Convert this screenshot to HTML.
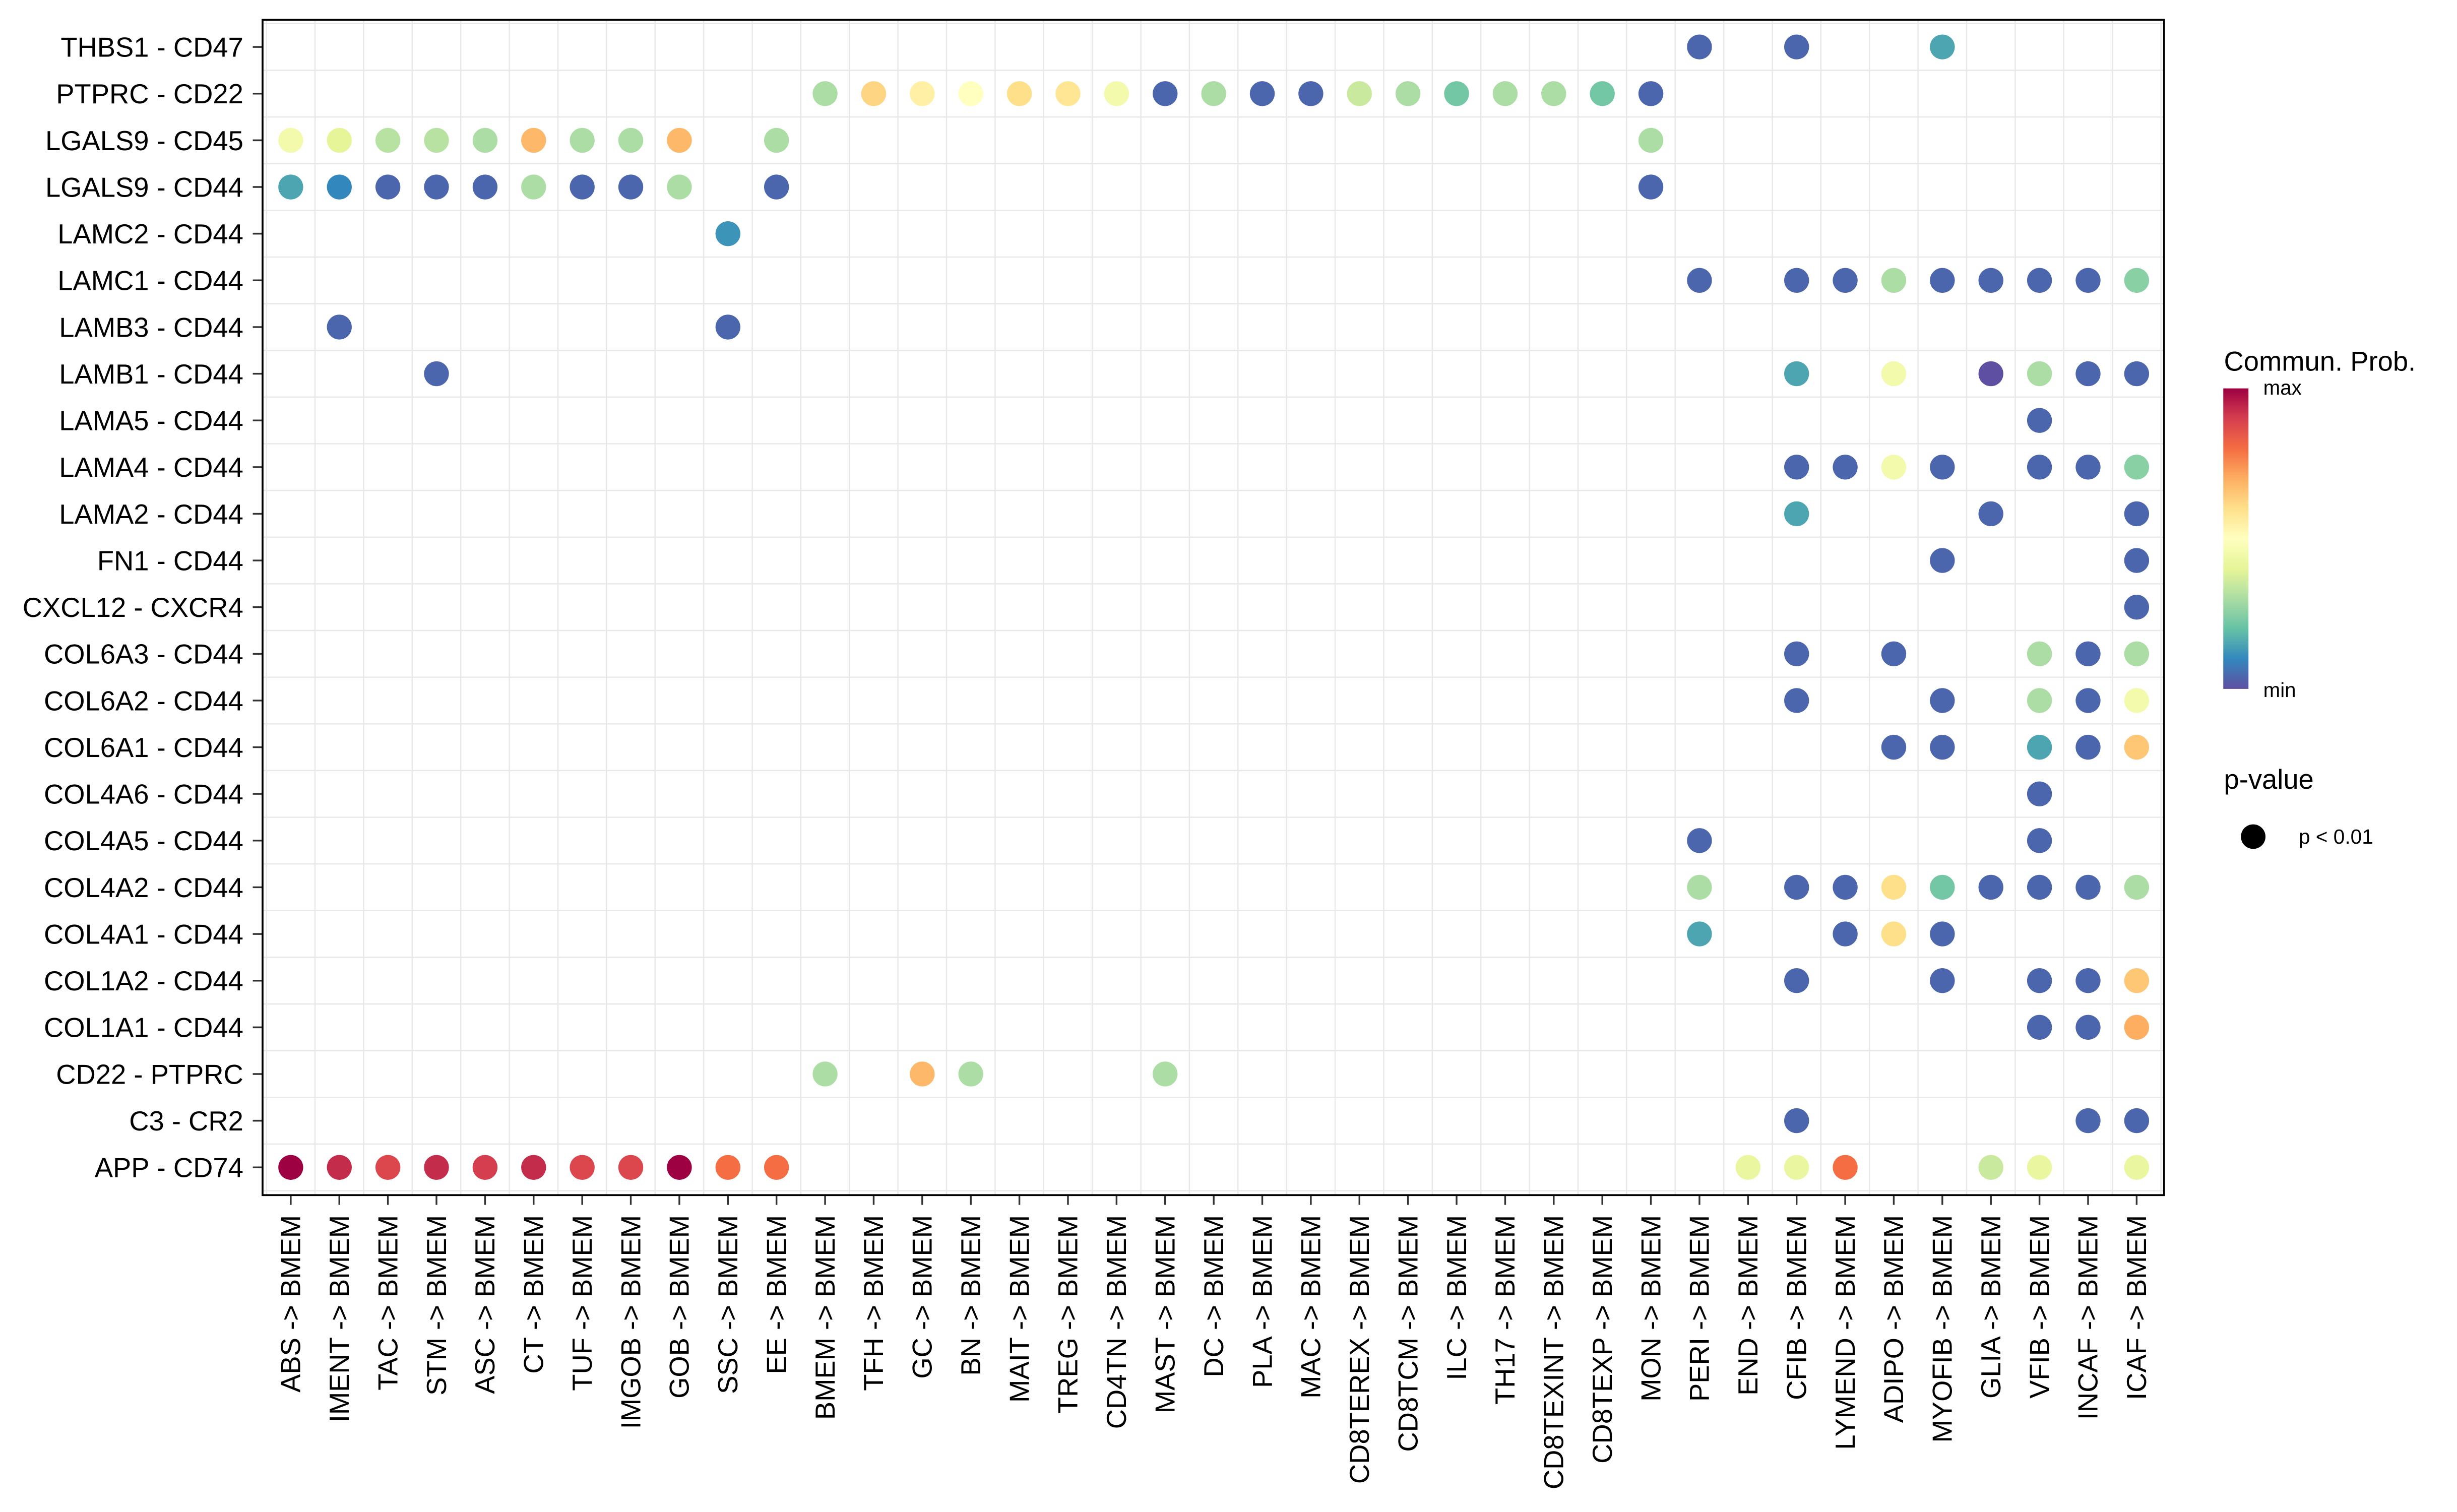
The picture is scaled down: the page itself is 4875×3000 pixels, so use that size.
<!DOCTYPE html>
<html><head><meta charset="utf-8"><style>
html,body{margin:0;padding:0;background:#fff;}
svg{display:block;font-family:"Liberation Sans",sans-serif;}
</style></head><body>
<svg id="chart" width="4875" height="3000" viewBox="0 0 1560 960" xmlns="http://www.w3.org/2000/svg">
<defs>
<linearGradient id="spec" x1="0" y1="1" x2="0" y2="0">
<stop offset="0" stop-color="#5E4FA2"/><stop offset="0.1" stop-color="#3288BD"/><stop offset="0.2" stop-color="#66C2A5"/><stop offset="0.3" stop-color="#ABDDA4"/><stop offset="0.4" stop-color="#E6F598"/><stop offset="0.5" stop-color="#FFFFBF"/><stop offset="0.6" stop-color="#FEE08B"/><stop offset="0.7" stop-color="#FDAE61"/><stop offset="0.8" stop-color="#F46D43"/><stop offset="0.9" stop-color="#D53E4F"/><stop offset="1" stop-color="#9E0142"/>
</linearGradient>
</defs>
<g id="grid"></g>
<g id="dots"></g>
<rect x="166.7" y="12.6" width="1207.3" height="746.2" fill="none" stroke="#000" stroke-width="1.2"/>
<g id="ylabels"></g>
<g id="xlabels"></g>
<g>
<text x="1412" y="235.4" font-size="17.4">Commun. Prob.</text>
<rect x="1411.6" y="246.6" width="16" height="190.8" fill="url(#spec)"/>
<text x="1437" y="250.6" font-size="12.9">max</text>
<text x="1437" y="442.6" font-size="12.9">min</text>
<text x="1412" y="500.8" font-size="17.4">p-value</text>
<circle cx="1430.6" cy="531.2" r="7.8" fill="#000"/>
<text x="1459.5" y="535.7" font-size="13">p &lt; 0.01</text>
</g>
</svg>
<script>
const rows = ["THBS1 - CD47","PTPRC - CD22","LGALS9 - CD45","LGALS9 - CD44","LAMC2 - CD44","LAMC1 - CD44","LAMB3 - CD44","LAMB1 - CD44","LAMA5 - CD44","LAMA4 - CD44","LAMA2 - CD44","FN1 - CD44","CXCL12 - CXCR4","COL6A3 - CD44","COL6A2 - CD44","COL6A1 - CD44","COL4A6 - CD44","COL4A5 - CD44","COL4A2 - CD44","COL4A1 - CD44","COL1A2 - CD44","COL1A1 - CD44","CD22 - PTPRC","C3 - CR2","APP - CD74"];
const cols = ["ABS","IMENT","TAC","STM","ASC","CT","TUF","IMGOB","GOB","SSC","EE","BMEM","TFH","GC","BN","MAIT","TREG","CD4TN","MAST","DC","PLA","MAC","CD8TEREX","CD8TCM","ILC","TH17","CD8TEXINT","CD8TEXP","MON","PERI","END","CFIB","LYMEND","ADIPO","MYOFIB","GLIA","VFIB","INCAF","ICAF"];
// [rowIndex, colIndex, prob(0-1)]
const points = [
[0,29,0.04],[0,31,0.04],[0,34,0.15],
[1,11,0.3],[1,12,0.62],[1,13,0.55],[1,14,0.5],[1,15,0.6],[1,16,0.58],[1,17,0.45],[1,18,0.04],[1,19,0.3],[1,20,0.04],[1,21,0.04],[1,22,0.35],[1,23,0.3],[1,24,0.22],[1,25,0.3],[1,26,0.3],[1,27,0.22],[1,28,0.04],
[2,0,0.45],[2,1,0.4],[2,2,0.32],[2,3,0.32],[2,4,0.3],[2,5,0.68],[2,6,0.3],[2,7,0.3],[2,8,0.68],[2,10,0.3],[2,28,0.3],
[3,0,0.15],[3,1,0.1],[3,2,0.04],[3,3,0.04],[3,4,0.04],[3,5,0.3],[3,6,0.04],[3,7,0.04],[3,8,0.3],[3,10,0.04],[3,28,0.04],
[4,9,0.12],
[5,29,0.04],[5,31,0.04],[5,32,0.04],[5,33,0.3],[5,34,0.04],[5,35,0.04],[5,36,0.04],[5,37,0.04],[5,38,0.25],
[6,1,0.04],[6,9,0.04],
[7,3,0.04],[7,31,0.15],[7,33,0.45],[7,35,0.0],[7,36,0.3],[7,37,0.04],[7,38,0.04],
[8,36,0.04],
[9,31,0.04],[9,32,0.04],[9,33,0.45],[9,34,0.04],[9,36,0.04],[9,37,0.04],[9,38,0.25],
[10,31,0.15],[10,35,0.04],[10,38,0.04],
[11,34,0.04],[11,38,0.04],
[12,38,0.04],
[13,31,0.04],[13,33,0.04],[13,36,0.3],[13,37,0.04],[13,38,0.3],
[14,31,0.04],[14,34,0.04],[14,36,0.3],[14,37,0.04],[14,38,0.45],
[15,33,0.04],[15,34,0.04],[15,36,0.15],[15,37,0.04],[15,38,0.65],
[16,36,0.04],
[17,29,0.04],[17,36,0.04],
[18,29,0.3],[18,31,0.04],[18,32,0.04],[18,33,0.6],[18,34,0.22],[18,35,0.04],[18,36,0.04],[18,37,0.04],[18,38,0.3],
[19,29,0.15],[19,32,0.04],[19,33,0.6],[19,34,0.04],
[20,31,0.04],[20,34,0.04],[20,36,0.04],[20,37,0.04],[20,38,0.65],
[21,36,0.04],[21,37,0.04],[21,38,0.7],
[22,11,0.3],[22,13,0.68],[22,14,0.3],[22,18,0.3],
[23,31,0.04],[23,37,0.04],[23,38,0.04],
[24,0,1.0],[24,1,0.93],[24,2,0.88],[24,3,0.93],[24,4,0.9],[24,5,0.93],[24,6,0.88],[24,7,0.88],[24,8,1.0],[24,9,0.8],[24,10,0.8],[24,30,0.42],[24,31,0.42],[24,32,0.8],[24,35,0.35],[24,36,0.42],[24,38,0.42]
];
const NS="http://www.w3.org/2000/svg";
const x0=184.6, x1=1356.6, y0=29.8, y1=741.2;
const PL=166.7, PR=1374, PT=12.6, PB=758.8;
function xs(i){return x0+i*(x1-x0)/(cols.length-1);}
function ys(i){return y0+i*(y1-y0)/(rows.length-1);}
const stops=["#5E4FA2","#3288BD","#66C2A5","#ABDDA4","#E6F598","#FFFFBF","#FEE08B","#FDAE61","#F46D43","#D53E4F","#9E0142"];
function hex(h){return [1,3,5].map(k=>parseInt(h.substr(k,2),16));}
function color(v){v=Math.max(0,Math.min(1,v));const p=v*10,i=Math.min(9,Math.floor(p)),t=p-i;const a=hex(stops[i]),b=hex(stops[i+1]);return "rgb("+a.map((c,k)=>Math.round(c+(b[k]-c)*t)).join(",")+")";}
const g=document.getElementById('grid'),d=document.getElementById('dots'),yl=document.getElementById('ylabels'),xl=document.getElementById('xlabels');
const dy=(y1-y0)/(rows.length-1), dx=(x1-x0)/(cols.length-1);
for(let i=0;i<=rows.length;i++){
 const y=y0+(i-0.5)*dy; if(y<=PT||y>=PB) continue;
 const l=document.createElementNS(NS,'line');
 
 
 l.setAttribute('x1',PL);l.setAttribute('x2',PR);l.setAttribute('y1',y);l.setAttribute('y2',y);l.setAttribute('stroke','#e8e8e8');l.setAttribute('stroke-width','0.8');g.appendChild(l);
}
for(let i=0;i<=cols.length;i++){
 const x=x0+(i-0.5)*dx; if(x<=PL||x>=PR) continue;
 const l=document.createElementNS(NS,'line');
 
 
 l.setAttribute('y1',PT);l.setAttribute('y2',PB);l.setAttribute('x1',x);l.setAttribute('x2',x);l.setAttribute('stroke','#e8e8e8');l.setAttribute('stroke-width','0.8');g.appendChild(l);
}
rows.forEach((r,i)=>{
 const t=document.createElementNS(NS,'text');
 
 
 t.setAttribute('x',154.5);t.setAttribute('y',ys(i)+6.2);t.setAttribute('text-anchor','end');t.setAttribute('font-size','17.4');t.textContent=r;yl.appendChild(t);
 const tk=document.createElementNS(NS,'line');
 
 
 tk.setAttribute('x1',160.5);tk.setAttribute('x2',PL);tk.setAttribute('y1',ys(i));tk.setAttribute('y2',ys(i));tk.setAttribute('stroke','#333');tk.setAttribute('stroke-width','1.1');g.appendChild(tk);
});
cols.forEach((c,i)=>{
 const tk=document.createElementNS(NS,'line');
 
 
 tk.setAttribute('y1',PB);tk.setAttribute('y2',765);tk.setAttribute('x1',xs(i));tk.setAttribute('x2',xs(i));tk.setAttribute('stroke','#333');tk.setAttribute('stroke-width','1.1');g.appendChild(tk);
 const t=document.createElementNS(NS,'text');
 
 
 const xx=xs(i)+6,yy=771.5;
 t.setAttribute('x',xx);t.setAttribute('y',yy);t.setAttribute('text-anchor','end');t.setAttribute('font-size','17.4');t.setAttribute('transform','rotate(-90 '+xx+' '+yy+')');t.textContent=c+" -> BMEM";xl.appendChild(t);
});
points.forEach(p=>{
 const c=document.createElementNS(NS,'circle');
 
 
 c.setAttribute('cx',xs(p[1]));c.setAttribute('cy',ys(p[0]));c.setAttribute('r',7.9);c.setAttribute('fill',color(p[2]));d.appendChild(c);
});
</script>
</body></html>
